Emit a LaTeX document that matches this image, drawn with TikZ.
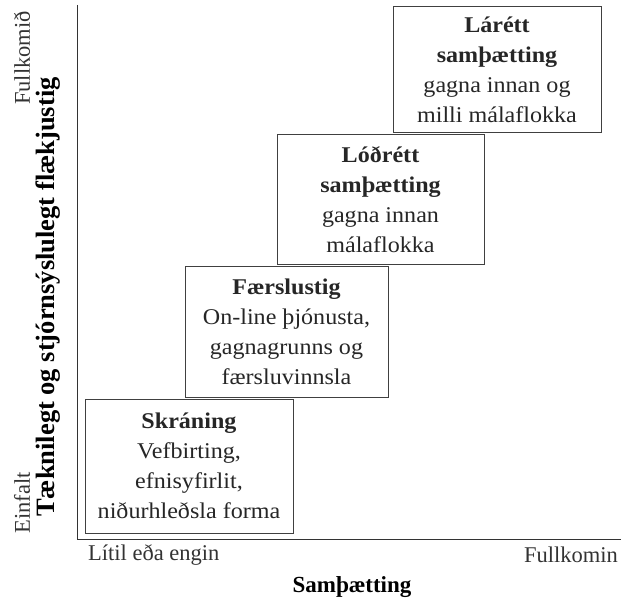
\documentclass[tikz,border=0pt]{standalone}
\usepackage{fontspec}
\setmainfont{Liberation Serif}
\newfontfamily\stagefont[FakeStretch=1.07]{Liberation Serif}
\begin{document}
\begin{tikzpicture}[x=1pt,y=-1pt,
  stage/.style={draw=black!75, line width=1pt, fill=white, align=center, inner sep=0pt,
    font=\stagefont\fontsize{22.5}{30}\selectfont, text=black!85},
  axlbl/.style={font=\fontsize{22.5}{24}\selectfont, text=black!80, inner sep=0pt},
  axtitle/.style={font=\fontsize{23}{24}\selectfont\bfseries, text=black, inner sep=0pt},
  axis/.style={draw=black!80, line width=1pt}]
\useasboundingbox (0,0) rectangle (621,601);
% axes
\coordinate (top) at (77.5,5);
\coordinate (orig) at (77.5,539.5);
\coordinate (right) at (621,539.5);
\draw[axis] (top) -- (orig) -- (right);
% stage boxes
\node[stage, minimum width=208pt, minimum height=134pt] (skr) at (189,466)
  {{\bfseries Skráning}\\Vefbirting,\\efnisyfirlit,\\niðurhleðsla forma};
\node[stage, minimum width=203pt, minimum height=130pt] (fae) at (286.5,332)
  {{\bfseries Færslustig}\\On-line þjónusta,\\gagnagrunns og\\færsluvinnsla};
\node[stage, minimum width=207pt, minimum height=130pt] (lod) at (380.5,200)
  {{\bfseries Lóðrétt}\\{\bfseries samþætting}\\gagna innan\\málaflokka};
\node[stage, minimum width=208pt, minimum height=126pt] (lar) at (497,70)
  {{\bfseries Lárétt}\\{\bfseries samþætting}\\gagna innan og\\milli málaflokka};
% axis labels
\node[axlbl, anchor=west] (xlo) at (88,555) {Lítil eða engin};
\node[axlbl, anchor=east] (xhi) at (618,555) {Fullkomin};
\node[axtitle] (xt) at (352,587) {Samþætting};
\node[axlbl, rotate=90] (ylo) at (22,503) {Einfalt};
\node[axlbl, rotate=90] (yhi) at (22,58) {Fullkomið};
\node[axtitle, font=\fontsize{26.5}{28}\selectfont\bfseries, rotate=90] (yt) at (48,297) {Tæknilegt og stjórnsýslulegt flækjustig};
\end{tikzpicture}
\end{document}
